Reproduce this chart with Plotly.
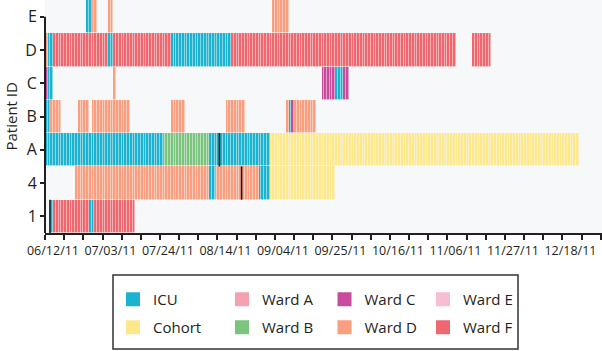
import numpy as np
import pandas as pd
import plotly.graph_objects as go

base_date = "2011-06-12"
n_days = 204
patients = ["1", "4", "A", "B", "C", "D", "E"]
locations = ["ICU", "Cohort", "Ward A", "Ward B", "Ward C", "Ward D", "Ward E", "Ward F"]
location_colors = ["#1cb3d0", "#fde88c", "#f4a2b1", "#7bc47d",
                   "#c94c9c", "#f99e7e", "#f6bdd4", "#ef6870"]

# stays: patient, location, first day, last day (days since base_date)
stay_patient = ["1", "1", "1", "1",
                "4", "4", "4", "4", "4",
                "A", "A", "A", "A",
                "B", "B", "B", "B", "B", "B", "B", "B", "B", "B",
                "C", "C", "C", "C", "C", "C",
                "D", "D", "D", "D", "D", "D", "D", "D",
                "E", "E", "E", "E"]
stay_location = ["ICU", "Ward F", "ICU", "Ward F",
                 "Ward D", "ICU", "Ward D", "ICU", "Cohort",
                 "ICU", "Ward B", "ICU", "Cohort",
                 "ICU", "Ward D", "Ward D", "Ward D", "Ward D", "Ward D", "Ward D", "ICU", "Ward C", "Ward D",
                 "Ward C", "ICU", "Ward D", "Ward C", "ICU", "Ward C",
                 "Ward D", "ICU", "Ward F", "ICU", "Ward F", "ICU", "Ward F", "Ward F",
                 "ICU", "Ward D", "Ward D", "Ward D"]
stay_first = [2, 3, 16, 18,
              11, 60, 62, 78, 82,
              0, 43, 60, 82,
              0, 2, 12, 17, 46, 66, 88, 89, 90, 91,
              0, 1, 25, 101, 106, 109,
              0, 1, 3, 23, 25, 46, 68, 156,
              15, 17, 23, 83]
stay_last = [2, 15, 17, 32,
             59, 61, 77, 81, 105,
             42, 59, 81, 194,
             1, 5, 15, 30, 50, 72, 88, 89, 90, 98,
             0, 2, 25, 105, 108, 110,
             0, 2, 22, 24, 45, 67, 149, 162,
             16, 18, 24, 88]

# event markers (black lines)
event_patient = ["1", "A", "4"]
event_day = [1.3, 63.2, 71.3]

# ---- build grid ----
z = np.full((len(patients), n_days), np.nan)
for p, loc, a, b in zip(stay_patient, stay_location, stay_first, stay_last):
    z[patients.index(p), a:b + 1] = locations.index(loc)

ncat = len(locations)
colorscale = []
for i, c in enumerate(location_colors):
    colorscale.append([i / ncat, c])
    colorscale.append([(i + 1) / ncat, c])

fig = go.Figure()
fig.add_trace(go.Heatmap(
    x=np.arange(n_days), y=patients, z=z,
    colorscale=colorscale, zmin=-0.5, zmax=ncat - 0.5,
    showscale=False, xgap=0.5, ygap=0.6, hoverongaps=False,
    showlegend=False))

# legend entries (one legend per entry, laid out in 4 columns x 2 rows)
W, H = 602, 351
L, R, T, B = 45, 0, 0, 118
pw, ph = W - L - R, H - T - B
col_cx = [134, 243, 345.5, 444]
row_cy = [299, 327]
order = [["ICU", "Cohort"], ["Ward A", "Ward B"], ["Ward C", "Ward D"], ["Ward E", "Ward F"]]
legend_layouts = {}
k = 0
for ci, pair in enumerate(order):
    for ri, name in enumerate(pair):
        k += 1
        lname = "legend" if k == 1 else f"legend{k}"
        fig.add_trace(go.Scatter(
            x=[None], y=[None], mode="markers", name=name,
            marker=dict(symbol="square", size=14,
                        color=location_colors[locations.index(name)]),
            legend=lname, showlegend=True))
        legend_layouts[lname] = dict(
            x=(col_cx[ci] - 21 - L) / pw, y=(ph + T - (row_cy[ri] - 16)) / ph,
            xanchor="left", yanchor="top", bgcolor="rgba(0,0,0,0)",
            borderwidth=0, font=dict(size=15, color="#231f20"))

week_ticks = list(np.arange(-0.5, n_days, 7))
week_text = []
for n in range(len(week_ticks)):
    if n % 3 == 0:
        d = pd.Timestamp(base_date) + pd.Timedelta(days=7 * n)
        week_text.append(d.strftime("%m/%d/%y"))
    else:
        week_text.append("")

shapes = []
# partial y-axis line (from bottom to top category)
shapes.append(dict(type="line", xref="x domain", yref="y", x0=0, x1=0,
                   y0=-0.5, y1=float(patients.index("E")),
                   line=dict(color="#231f20", width=2)))
for p, d in zip(event_patient, event_day):
    i = patients.index(p)
    shapes.append(dict(type="line", xref="x", yref="y", x0=d, x1=d,
                       y0=i - 0.5, y1=i + 0.5, line=dict(color="#111111", width=1.5)))
# legend frame
shapes.append(dict(type="rect", xref="paper", yref="paper",
                   x0=(113 - L) / pw, x1=(518 - L) / pw,
                   y0=(ph + T - 349) / ph, y1=(ph + T - 275) / ph,
                   line=dict(color="#333333", width=1.5), fillcolor="rgba(0,0,0,0)"))

fig.update_layout(
    width=W, height=H, margin=dict(l=L, r=R, t=T, b=B, autoexpand=False),
    paper_bgcolor="white", plot_bgcolor="#f6f8f9",
    font=dict(family="Open Sans", color="#231f20"),
    shapes=shapes,
    annotations=[dict(text="Patient ID", xref="paper", yref="paper",
                      x=(10 - L) / pw, y=0.5, textangle=-90, showarrow=False,
                      xanchor="center", yanchor="middle",
                      font=dict(size=15, color="#231f20"))],
    xaxis=dict(range=[-0.5, pw / 2.738 - 0.5], tickvals=week_ticks, ticktext=week_text,
               ticks="outside", ticklen=5, tickwidth=1.5, tickcolor="#231f20",
               showline=True, linecolor="#231f20", linewidth=2,
               showgrid=False, zeroline=False, ticklabelshift=8,
               tickfont=dict(size=12.5, color="#231f20"), automargin=False),
    yaxis=dict(type="category", categoryorder="array", categoryarray=patients,
               range=[-0.5, len(patients) - 0.5], ticks="outside", ticklen=4,
               tickwidth=1.5, tickcolor="#231f20", showline=False, showgrid=False,
               zeroline=False, tickfont=dict(size=16, color="#231f20"),
               automargin=False),
    **legend_layouts,
)

fig.write_html("out.html", config={"displayModeBar": False},
               post_script="document.body.style.margin='0';document.body.style.overflow='hidden';")
